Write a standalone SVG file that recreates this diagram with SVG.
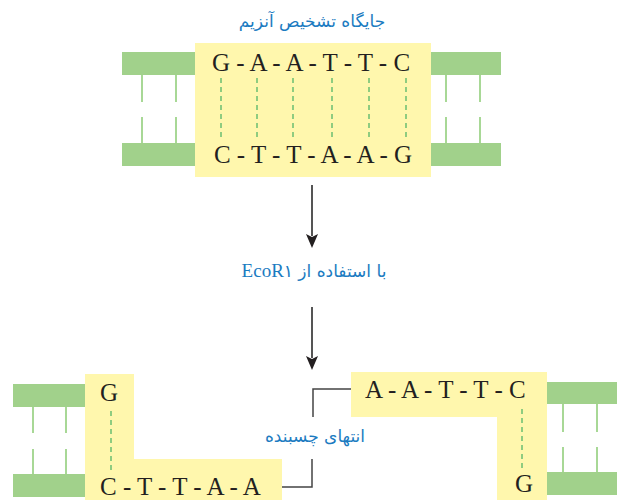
<svg xmlns="http://www.w3.org/2000/svg" width="623" height="501" viewBox="0 0 623 501">
<defs>
<style>
.bar{fill:#a1d18b}
.rung{stroke:#a8d896;stroke-width:2;fill:none}
.hl{fill:#fff7ad}
.dash{stroke:#8fcc80;stroke-width:2;stroke-dasharray:5,4;fill:none}
.base{font-family:"Liberation Serif",serif;font-size:25px;fill:#231f20}
.fa{font-family:"DejaVu Sans",sans-serif;fill:#1b7bc1;font-size:17px}
.lat{font-family:"Liberation Serif",serif;font-size:19px}
.arr{stroke:#555;stroke-width:2;fill:none}
.lead{stroke:#444;stroke-width:1.5;fill:none}
</style>
</defs>
<g id="top-dna">
<rect class="hl" x="195" y="43" width="236" height="134"/>
<rect class="bar" x="122" y="52" width="73" height="23"/>
<rect class="bar" x="122" y="143" width="73" height="23"/>
<rect class="bar" x="431" y="52" width="70" height="23"/>
<rect class="bar" x="431" y="143" width="70" height="23"/>
<path class="rung" d="M142,75V102M176,75V102M142,117V143M176,117V143M446,75V102M480,75V102M446,117V143M480,117V143"/>
<path class="dash" d="M221,78V140M257,78V140M293,78V140M332,78V140M369,78V140M406,78V140"/>
<text class="base" x="311" y="71" text-anchor="middle">G - A - A - T - T - C</text>
<text class="base" x="313" y="163" text-anchor="middle">C - T - T - A - A - G</text>
</g>
<g id="title">
<text class="fa" x="312" y="27" text-anchor="middle" direction="rtl">جایگاه تشخیص آنزیم</text>
</g>
<g id="enzyme-label">
<text class="fa" x="314" y="277" text-anchor="middle" direction="rtl">با استفاده از <tspan class="lat">EcoR</tspan>۱</text>
</g>
<g id="left-fragment">
<path class="hl" d="M85,374H134V459H282V500H85Z"/>
<rect class="bar" x="13" y="384" width="72" height="23"/>
<rect class="bar" x="13" y="474" width="72" height="23"/>
<path class="rung" d="M33,407V433M66,407V433M33,449V474M66,449V474"/>
<path class="dash" d="M111,411V470"/>
<text class="base" x="109" y="401" text-anchor="middle">G</text>
<text class="base" x="100" y="495">C - T - T - A - A</text>
</g>
<g id="right-fragment">
<path class="hl" d="M351,372H547V500H497V417H351Z"/>
<rect class="bar" x="547" y="382" width="70" height="22"/>
<rect class="bar" x="547" y="472" width="70" height="23"/>
<path class="rung" d="M563,404V432M597,404V432M563,447V472M597,447V472"/>
<path class="dash" d="M522,409V470"/>
<text class="base" x="365" y="398">A - A - T - T - C</text>
<text class="base" x="524" y="492" text-anchor="middle">G</text>
</g>
<g id="sticky-label">
<text class="fa" x="315" y="442" text-anchor="middle" direction="rtl" font-size="18">انتهای چسبنده</text>
</g>
<g id="connectors">
<path class="arr" d="M312,185V236"/>
<path d="M306,234 L312,237 L318,234 L312,248 Z" fill="#231f20"/>
<path class="arr" d="M312,307V358"/>
<path d="M306,356 L312,359 L318,356 L312,370 Z" fill="#231f20"/>
<path class="lead" d="M351,389H313V417"/>
<path class="lead" d="M282,487H312V459"/>
</g>
</svg>
